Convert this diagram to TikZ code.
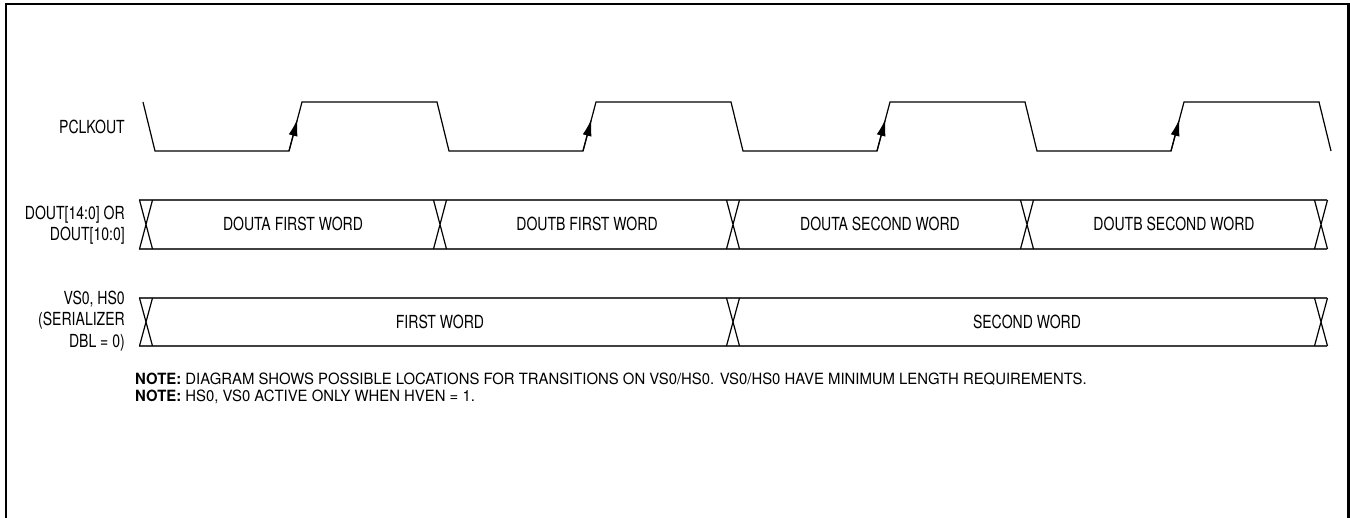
\documentclass[tikz,border=0pt]{standalone}
\usepackage{fontspec}
\setmainfont[FakeStretch=0.78]{TeX Gyre Heros}
\newfontfamily\notefont[FakeStretch=0.96]{TeX Gyre Heros}
\usetikzlibrary{arrows.meta}

\begin{document}
\begin{tikzpicture}[x=1pt, y=-1pt,
  wave/.style={line width=1.2pt},
  bus/.style={line width=1.7pt, black!75},
  lbl/.style={font=\fontsize{18}{21.5}\selectfont, inner sep=0pt},
  notetext/.style={font=\notefont\fontsize{15.5}{18}\selectfont, inner sep=0pt, anchor=west}]
  \useasboundingbox (0,0) rectangle (1350,518);
  % frame, open at the bottom
  \draw[line width=2.5pt] (6,518) -- (6,4) -- (1348.5,4) -- (1348.5,518);
  % PCLKOUT
  \draw[wave] (143,102) -- (155,151)
    \foreach \o in {0,294,588,882} { -- (289+\o,151) -- (302+\o,102) -- (437+\o,102) -- (449+\o,151) };
  \foreach \o in {0,294,588,882}
    \draw[wave, -{Latex[length=17pt, width=9pt]}] (289+\o,151) -- (297.5+\o,119);
  % DOUT bus
  \draw[bus] (139,200) -- (1327,200) (139,249) -- (1327,249);
  \foreach \c in {146,440,733,1027,1321}
    \draw[wave] (\c-6.5,200) -- (\c+6.5,249) (\c+6.5,200) -- (\c-6.5,249);
  % VS0/HS0
  \draw[bus] (139,298) -- (1327,298) (139,346) -- (1327,346);
  \foreach \c in {146,733,1321}
    \draw[wave] (\c-6.5,298) -- (\c+6.5,346) (\c+6.5,298) -- (\c-6.5,346);
  % signal names
  \node[lbl, anchor=east] (clk) at (125,127) {PCLKOUT};
  \node[lbl, anchor=east, align=right] (dout) at (125,225) {DOUT[14:0] OR\\DOUT[10:0]};
  \node[lbl, anchor=east, align=right] (sync) at (125,321) {VS0, HS0\\(SERIALIZER\\DBL = 0)};
  % words
  \node[lbl] (wa1) at (293,224) {DOUTA FIRST WORD};
  \node[lbl] (wb1) at (587,224) {DOUTB FIRST WORD};
  \node[lbl] (wa2) at (880,224) {DOUTA SECOND WORD};
  \node[lbl] (wb2) at (1174,224) {DOUTB SECOND WORD};
  \node[lbl] (s1) at (440,322) {FIRST WORD};
  \node[lbl] (s2) at (1027,322) {SECOND WORD};
  % notes
  \node[notetext] (note1) at (135,379) {\textbf{NOTE:} DIAGRAM SHOWS POSSIBLE LOCATIONS FOR TRANSITIONS ON VS0/HS0. VS0/HS0 HAVE MINIMUM LENGTH REQUIREMENTS.};
  \node[notetext] (note2) at (135,397) {\textbf{NOTE:} HS0, VS0 ACTIVE ONLY WHEN HVEN = 1.};
\end{tikzpicture}
\end{document}
